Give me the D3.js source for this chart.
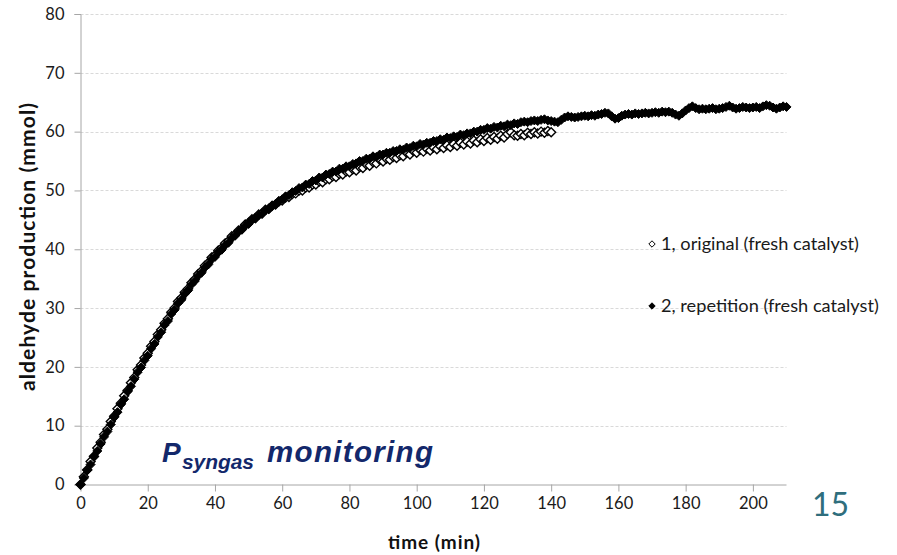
<!DOCTYPE html>
<html>
<head>
<meta charset="utf-8">
<script src="https://cdn.jsdelivr.net/npm/d3@7"></script>
<style>
body { margin: 0; background: #fff; }
text { font-family: Lato, "Open Sans", sans-serif; }
</style>
</head>
<body>
<script>
var width = 897,
    height = 555;

// sampling times, one point per minute
var time1 = d3.range(0, 141)
var time2 = d3.range(0, 211)

// 1, original (fresh catalyst), open diamonds
var original = [
 0.0, 1.3, 2.5, 3.9, 4.8, 6.2, 7.2, 8.5, 9.4, 10.7,
 11.6, 12.9, 13.8, 15.1, 16.0, 17.3, 18.2, 19.5, 20.3, 21.5,
 22.3, 23.5, 24.3, 25.5, 26.3, 27.4, 28.2, 29.3, 30.0, 31.1,
 31.7, 32.7, 33.3, 34.3, 34.9, 35.8, 36.3, 37.2, 37.7, 38.6,
 39.0, 39.8, 40.2, 41.0, 41.4, 42.2, 42.5, 43.2, 43.5, 44.2,
 44.5, 45.1, 45.3, 45.9, 46.1, 46.7, 46.9, 47.4, 47.6, 48.1,
 48.3, 48.8, 48.9, 49.4, 49.5, 50.0, 50.0, 50.5, 50.5, 51.0,
 51.0, 51.5, 51.4, 51.9, 51.9, 52.4, 52.3, 52.8, 52.7, 53.2,
 53.1, 53.6, 53.4, 54.0, 53.8, 54.4, 54.2, 54.8, 54.6, 55.2,
 54.9, 55.4, 55.2, 55.7, 55.5, 56.0, 55.8, 56.4, 56.1, 56.7,
 56.4, 56.9, 56.6, 57.1, 56.8, 57.3, 57.0, 57.5, 57.2, 57.7,
 57.4, 57.9, 57.6, 58.1, 57.8, 58.3, 58.0, 58.5, 58.2, 58.7,
 58.4, 58.9, 58.6, 59.1, 58.8, 59.3, 59.0, 59.6, 59.9, 59.4,
 59.3, 59.6, 59.4, 59.8, 59.6, 59.9, 59.7, 60.0, 59.8, 60.1,
 59.9
]

// 2, repetition (fresh catalyst), filled diamonds
var repetition = [
 0.0, 1.1, 2.4, 3.4, 4.7, 5.7, 6.9, 8.1, 9.0, 10.2,
 11.4, 12.3, 13.6, 14.5, 15.8, 16.7, 17.9, 19.1, 19.9, 21.1,
 21.9, 23.1, 23.9, 25.1, 25.9, 27.1, 27.8, 29.0, 29.7, 30.8,
 31.4, 32.4, 33.0, 34.0, 34.6, 35.5, 36.0, 36.9, 37.4, 38.3,
 38.7, 39.5, 39.9, 40.7, 41.1, 41.9, 42.3, 43.0, 43.3, 44.0,
 44.3, 45.0, 45.2, 45.8, 46.0, 46.6, 46.8, 47.4, 47.6, 48.2,
 48.5, 49.0, 49.2, 49.7, 49.9, 50.4, 50.5, 51.0, 51.1, 51.6,
 51.7, 52.2, 52.2, 52.7, 52.8, 53.2, 53.2, 53.7, 53.7, 54.1,
 54.1, 54.5, 54.6, 55.0, 55.0, 55.4, 55.4, 55.8, 55.7, 56.1,
 56.1, 56.4, 56.4, 56.7, 56.7, 57.0, 56.9, 57.3, 57.2, 57.6,
 57.5, 57.9, 57.8, 58.1, 58.1, 58.4, 58.4, 58.7, 58.6, 59.0,
 58.9, 59.2, 59.1, 59.5, 59.4, 59.7, 59.7, 60.0, 60.0, 60.3,
 60.3, 60.6, 60.5, 60.8, 60.7, 61.0, 60.9, 61.2, 61.1, 61.4,
 61.3, 61.6, 61.7, 61.6, 61.8, 61.9, 61.8, 62.0, 62.1, 61.9,
 61.8, 61.7, 61.6, 62.0, 62.4, 62.6, 62.5, 62.4, 62.5, 62.6,
 62.7, 62.6, 62.8, 62.7, 62.9, 63.0, 63.2, 63.1, 62.6, 62.2,
 62.3, 62.7, 62.9, 63.0, 62.9, 63.1, 63.0, 63.1, 63.2, 63.1,
 63.2, 63.3, 63.2, 63.4, 63.3, 63.4, 63.2, 62.9, 62.7, 63.1,
 63.6, 64.0, 64.3, 64.0, 63.8, 63.9, 63.8, 63.9, 64.0, 63.8,
 63.9, 64.0, 64.2, 64.4, 64.1, 63.9, 64.0, 64.2, 64.1, 64.0,
 64.1, 64.2, 64.0, 64.3, 64.5, 64.4, 64.1, 63.9, 64.1, 64.3,
 64.2
]

var xTicks = [0, 20, 40, 60, 80, 100, 120, 140, 160, 180, 200]
var yTicks = [0, 10, 20, 30, 40, 50, 60, 70, 80]
var legendNames = ["1, original (fresh catalyst)", "2, repetition (fresh catalyst)"]

var xscale = d3.scaleLinear().domain([0, 210]).range([80.5, 786.5])
var yscale = d3.scaleLinear().domain([0, 80]).range([484.5, 14])

var svg = d3.select("body").append("svg")
    .attr("width", width)
    .attr("height", height)

// dashed gridlines
svg.append("g")
    .selectAll("line")
    .data(yTicks.slice(1)).enter()
    .append("line")
    .attr("x1", xscale(0))
    .attr("x2", xscale(210))
    .attr("y1", function(d) { return Math.round(yscale(d)) + 0.5 })
    .attr("y2", function(d) { return Math.round(yscale(d)) + 0.5 })
    .attr("stroke", "#d9d9d9")
    .attr("stroke-dasharray", "3,2")

var xAxis = svg.append("g")
    .attr("transform", "translate(0," + yscale(0) + ")")
    .call(d3.axisBottom(xscale).tickValues(xTicks).tickSize(7).tickPadding(6))
var yAxis = svg.append("g")
    .attr("transform", "translate(" + xscale(0) + ",0)")
    .call(d3.axisLeft(yscale).tickValues(yTicks).tickSize(6).tickPadding(10))

svg.selectAll(".domain").attr("stroke", "#a6a6a6")
svg.selectAll(".tick line").attr("stroke", "#a6a6a6")
svg.selectAll(".tick text")
    .attr("fill", "#1a1a1a")
    .style("font-size", "16.5px")
    .style("font-family", "Lato, sans-serif")
xAxis.select(".domain").attr("d", "M" + xscale(0) + ",0.5H" + xscale(210))

// axis titles
svg.append("text")
    .attr("x", 434)
    .attr("y", 549)
    .attr("text-anchor", "middle")
    .attr("textLength", 92)
    .style("font-size", "19px")
    .style("font-weight", "bold")
    .attr("fill", "#111")
    .text("time (min)")

svg.append("text")
    .attr("transform", "translate(35,247) rotate(-90)")
    .attr("text-anchor", "middle")
    .attr("textLength", 288)
    .style("font-size", "21px")
    .style("font-weight", "bold")
    .attr("fill", "#111")
    .text("aldehyde production (mmol)")

function diamond(r) {
    return "M0," + (-r) + "L" + r + ",0L0," + r + "L" + (-r) + ",0Z"
}

// series 1: open diamonds
svg.append("g")
    .selectAll("path")
    .data(original).enter()
    .append("path")
    .attr("d", diamond(4.5))
    .attr("transform", function(d, i) { return "translate(" + xscale(time1[i]) + "," + yscale(d) + ")" })
    .attr("fill", "#fff")
    .attr("stroke", "#000")
    .attr("stroke-width", 1.4)

// series 2: filled diamonds on top
svg.append("g")
    .selectAll("path")
    .data(repetition).enter()
    .append("path")
    .attr("d", diamond(4.5))
    .attr("transform", function(d, i) { return "translate(" + xscale(time2[i]) + "," + yscale(d) + ")" })
    .attr("fill", "#000")
    .attr("stroke", "#000")
    .attr("stroke-width", 1)

// legend
var legend = svg.append("g")
    .selectAll("g")
    .data(legendNames).enter()
    .append("g")
    .attr("transform", function(d, i) { return "translate(652," + (244 + i * 62) + ")" })

legend.append("path")
    .attr("d", diamond(3.2))
    .attr("fill", function(d, i) { return i == 0 ? "#fff" : "#000" })
    .attr("stroke", "#000")
    .attr("stroke-width", 1)

legend.append("text")
    .attr("x", 9)
    .attr("y", 6)
    .style("font-size", "18.2px")
    .attr("fill", "#1a1a1a")
    .text(function(d) { return d })

// annotation
var noteFont = "'Liberation Sans', Arial, sans-serif"
var noteColor = "#13286b"
svg.append("text")
    .attr("x", 162)
    .attr("y", 462)
    .style("font-family", noteFont)
    .style("font-weight", "bold")
    .style("font-style", "italic")
    .style("font-size", "28px")
    .attr("fill", noteColor)
    .text("P")
svg.append("text")
    .attr("x", 182)
    .attr("y", 469)
    .attr("textLength", 72)
    .style("font-family", noteFont)
    .style("font-weight", "bold")
    .style("font-style", "italic")
    .style("font-size", "21px")
    .attr("fill", noteColor)
    .text("syngas")
svg.append("text")
    .attr("x", 267)
    .attr("y", 462)
    .attr("textLength", 166)
    .style("font-family", noteFont)
    .style("font-weight", "bold")
    .style("font-style", "italic")
    .style("font-size", "29.5px")
    .attr("fill", noteColor)
    .text("monitoring")

svg.append("text")
    .attr("x", 812)
    .attr("y", 516)
    .style("font-size", "32px")
    .attr("fill", "#2f6e7d")
    .text("15")
</script>
</body>
</html>
